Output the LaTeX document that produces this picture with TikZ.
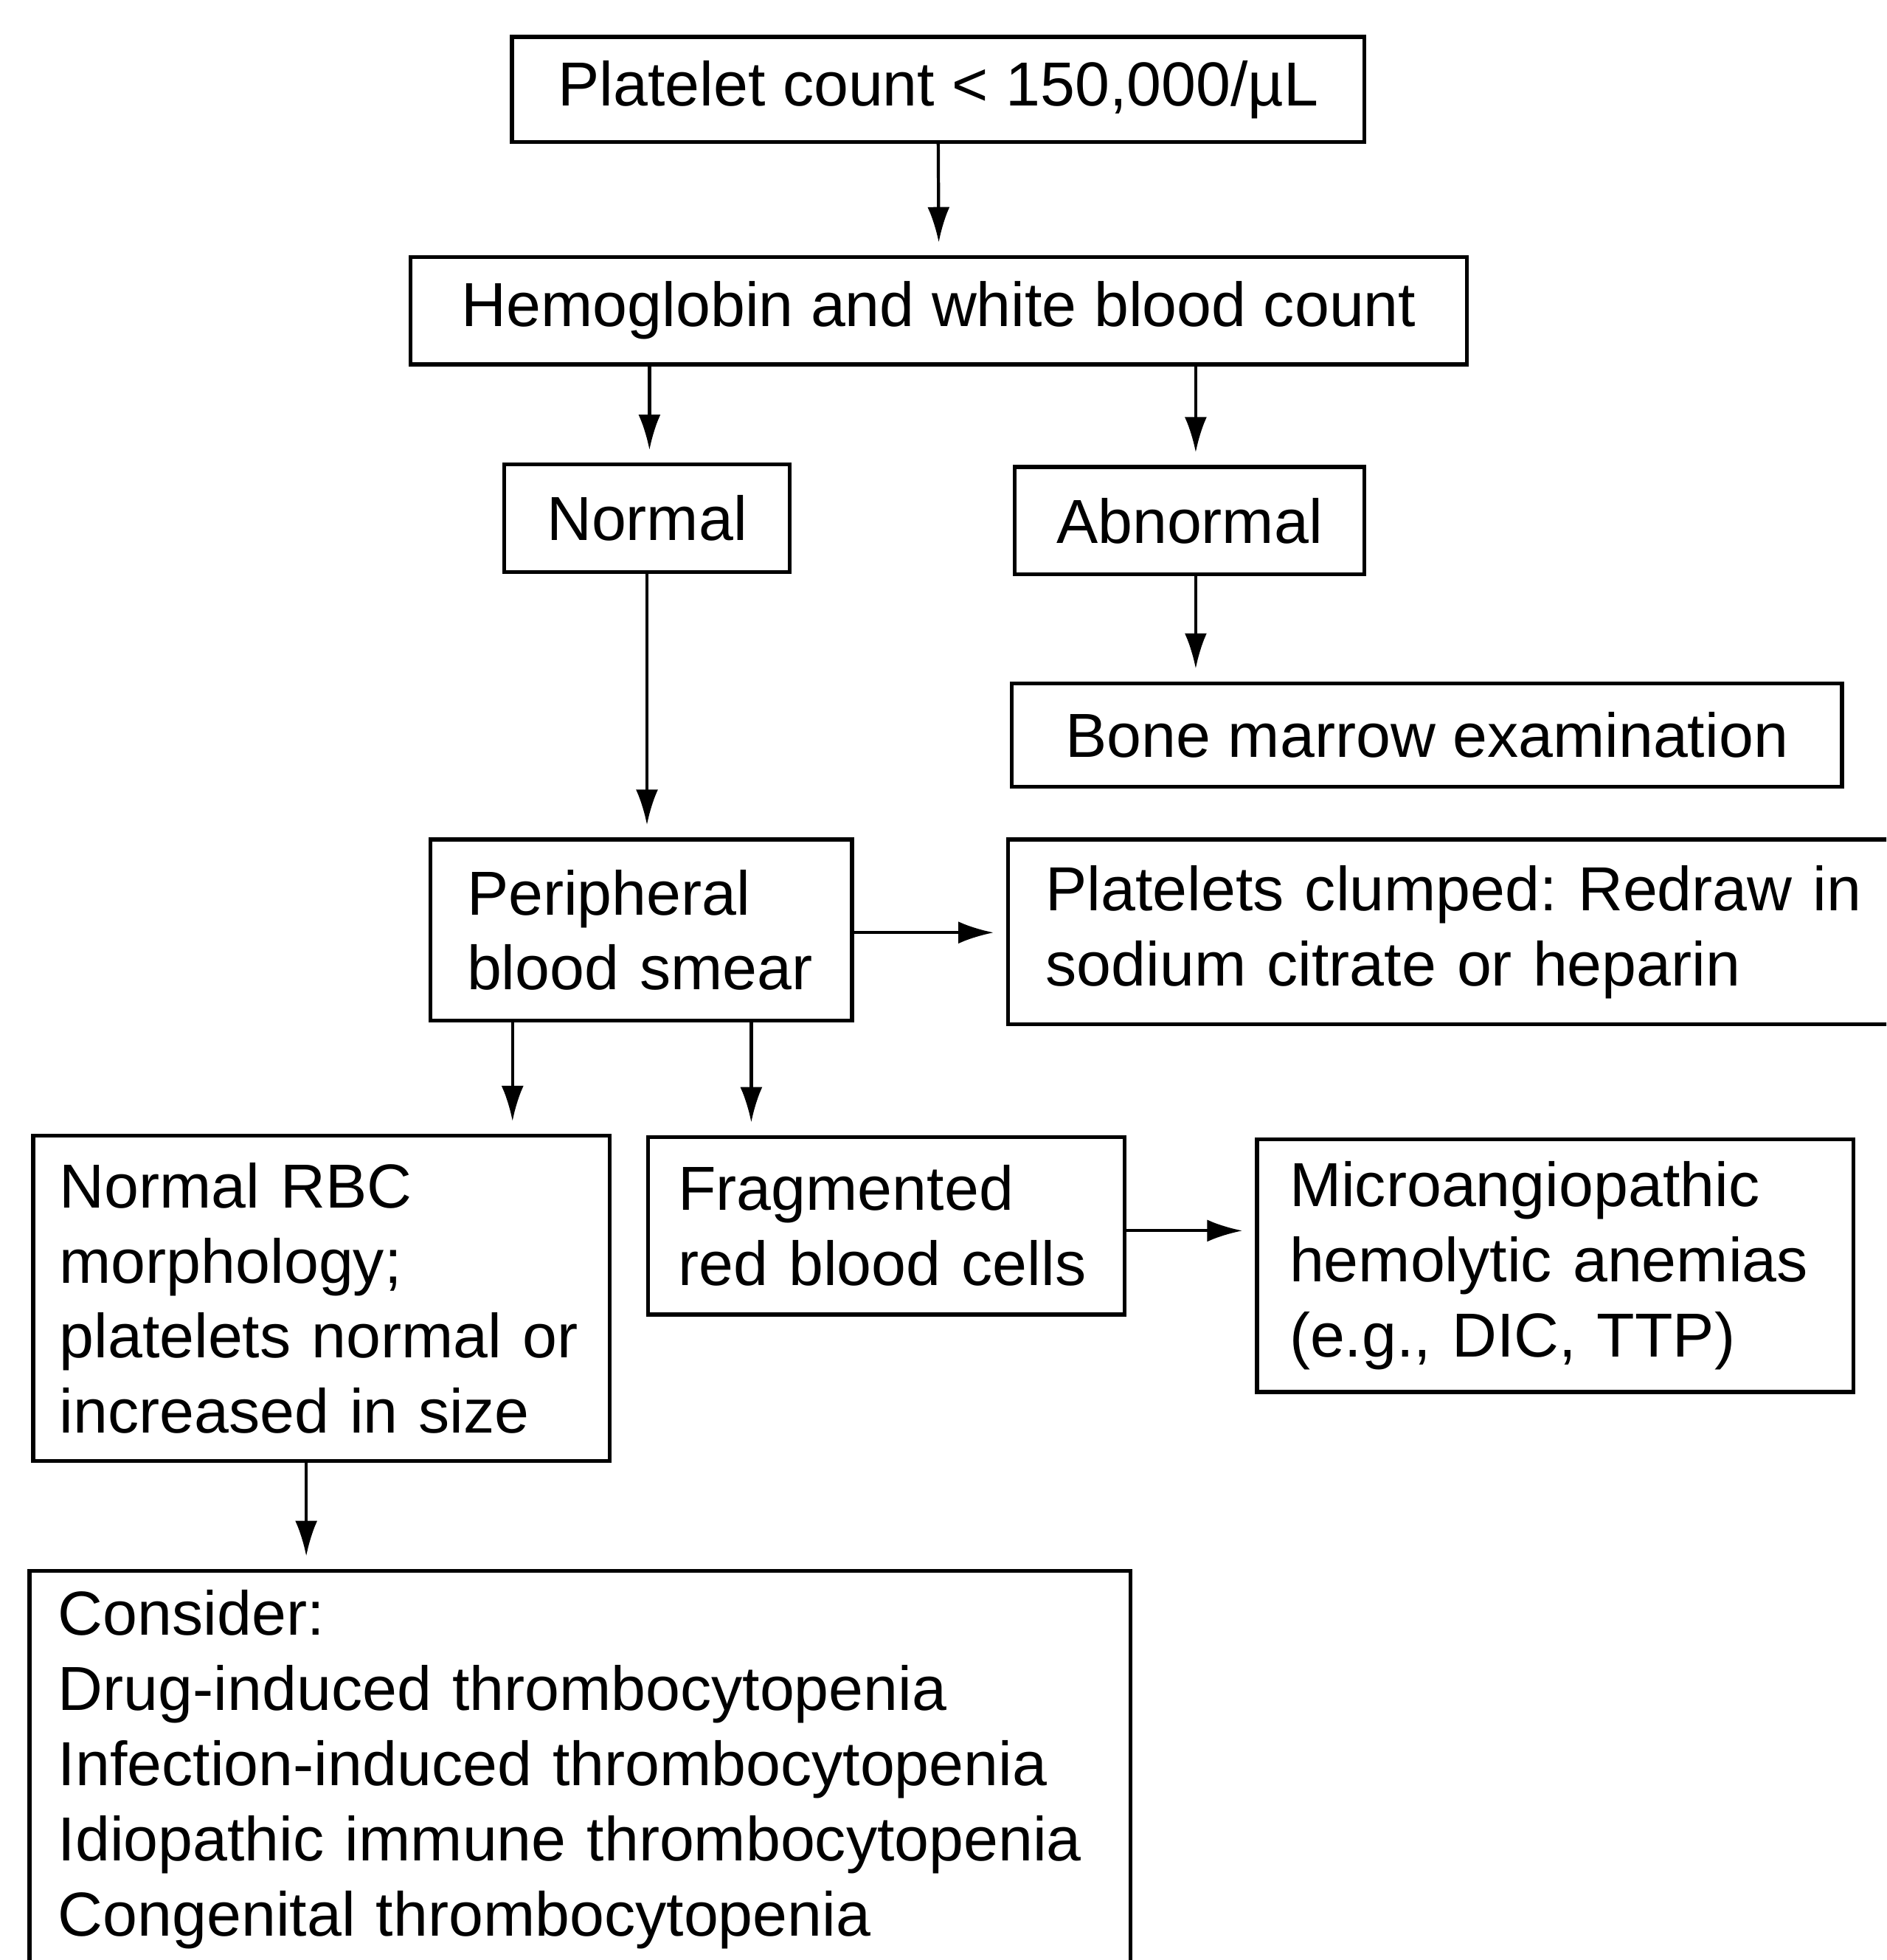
\documentclass[tikz,border=0pt]{standalone}
\usepackage{fontspec}
\setmainfont{Liberation Sans}
\usetikzlibrary{arrows.meta,calc}
\frenchspacing
\newcommand\pxu{0.016945cm}
\tikzset{
  box/.style={draw, line width=1.5pt, rectangle, inner sep=0pt, anchor=north west,
    font=\fontsize{24}{29}\selectfont},
  cbox/.style={box, align=center},
  lbox/.style={box, align=left},
  arr/.style={line width=1.2pt, -{Latex[length=0.48cm,width=0.3cm]}, shorten >=0.17cm}
}
\begin{document}
\begin{tikzpicture}[x=0.016945cm, y=-0.016945cm]
\clip (0,0) rectangle (1509,1568);
\fill[white] (0,0) rectangle (1509,1568);
% nodes
\node[cbox, minimum width=682*\pxu, minimum height=84*\pxu] (A) at (408,28) {\raisebox{-3pt}{Platelet count < 150,000/µL}};
\node[cbox, minimum width=845*\pxu, minimum height=86*\pxu] (B) at (327,204) {Hemoglobin and white blood count};
\node[cbox, minimum width=228*\pxu, minimum height=86*\pxu] (C) at (402,370) {Normal};
\node[cbox, minimum width=280*\pxu, minimum height=86*\pxu] (D) at (810,372) {Abnormal};
\node[cbox, minimum width=664*\pxu, minimum height=83*\pxu] (E) at (808,545) {Bone marrow examination};
\node[lbox, inner xsep=29*\pxu, text width=279*\pxu, minimum height=145*\pxu] (F) at (343,670) {Peripheral\\blood smear};
\node[lbox, inner xsep=30*\pxu, text width=675*\pxu, minimum height=148*\pxu] (G) at (805,670) {Platelets clumped: Redraw in\\sodium citrate or heparin};
\node[lbox, inner xsep=21*\pxu, text width=419*\pxu, minimum height=260*\pxu] (H) at (25,907) {Normal RBC\\morphology;\\platelets normal or\\increased in size};
\node[lbox, inner xsep=24*\pxu, text width=333*\pxu, minimum height=142*\pxu] (I) at (517,908) {Fragmented\\red blood cells};
\node[lbox, inner xsep=26*\pxu, text width=425*\pxu, minimum height=202*\pxu] (J) at (1004,910) {Microangiopathic\\hemolytic anemias\\(e.g., DIC, TTP)};
\node[lbox, inner xsep=23*\pxu, text width=835*\pxu, minimum height=318*\pxu] (K) at (22,1255) {Consider:\\Drug-induced thrombocytopenia\\Infection-induced thrombocytopenia\\Idiopathic immune thrombocytopenia\\Congenital thrombocytopenia};
% connectors
\draw[arr] (A.south) -- (B.north);
\draw[arr] ($(B.south -| C.north)+(2,0)$) coordinate (b1) -- (b1 |- C.north);
\draw[arr] ($(B.south -| D.north)+(5,0)$) coordinate (b2) -- (b2 |- D.north);
\draw[arr] ($(D.south)+(5,0)$) coordinate (d1) -- (d1 |- E.north);
\draw[arr] (C.south) -- (C.south |- F.north);
\draw[arr] ($(F.east)+(0,2)$) coordinate (f0) -- (f0 -| G.west);
\draw[arr] ($(F.south west)+(67,0)$) coordinate (f1) -- (f1 |- H.north);
\draw[arr] ($(F.south west)+(258,0)$) coordinate (f2) -- (f2 |- I.north);
\draw[arr] ($(I.east)+(0,4)$) coordinate (i1) -- (i1 -| J.west);
\draw[arr] ($(H.south west)+(220,0)$) coordinate (h1) -- (h1 |- K.north);
\end{tikzpicture}
\end{document}
